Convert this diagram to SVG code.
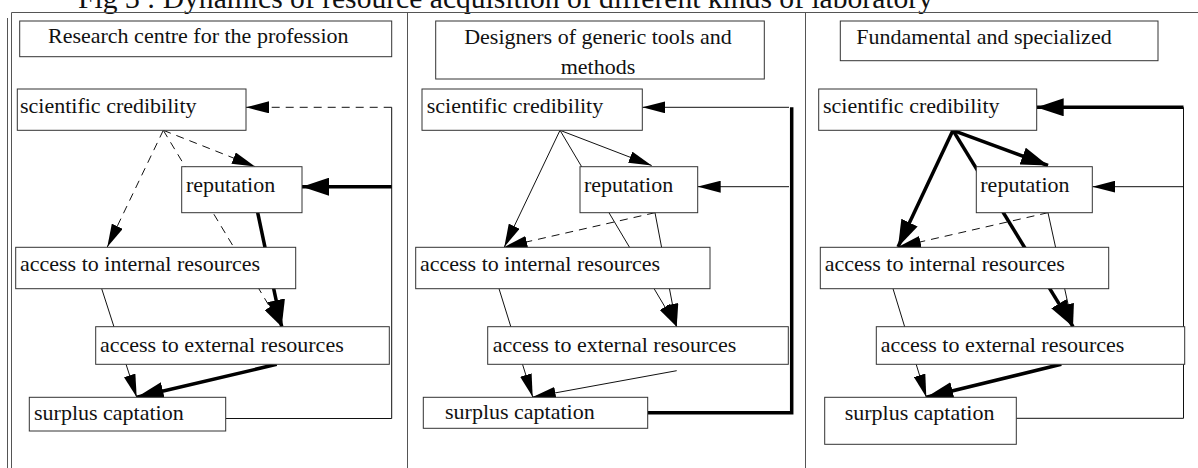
<svg xmlns="http://www.w3.org/2000/svg" width="1198" height="468" viewBox="0 0 1198 468">
<style>
text{font-family:"Liberation Serif","Times New Roman",serif;font-size:22px;fill:#111}
.title{font-size:29.6px}
.box{fill:#fff;stroke:#333;stroke-width:1}
.frame{stroke:#555;stroke-width:1;fill:none}
.thin{stroke:#111;stroke-width:1;fill:none}
.thick{stroke:#000;stroke-width:3.5;fill:none}
.dash{stroke:#111;stroke-width:1;fill:none;stroke-dasharray:8 6}
</style>
<defs>
<marker id="ah" markerUnits="userSpaceOnUse" viewBox="0 0 23 12" markerWidth="23" markerHeight="12" refX="23" refY="6" orient="auto"><path d="M0,0 L23,6 L0,12 z" fill="#000"/></marker>
<marker id="ahb" markerUnits="userSpaceOnUse" viewBox="0 0 27 18" markerWidth="27" markerHeight="18" refX="27" refY="9" orient="auto"><path d="M0,0 L27,9 L0,18 z" fill="#000"/></marker>
</defs>
<rect width="1198" height="468" fill="#fff"/>
<text class="title" x="78" y="8">Fig 3 : Dynamics of resource acquisition of different kinds of laboratory</text>
<g id="frame">
<line class="frame" x1="7.5" y1="18" x2="7.5" y2="468"/>
<line class="frame" x1="11.5" y1="12.5" x2="11.5" y2="468"/>
<line class="frame" x1="11.5" y1="12.5" x2="1198" y2="12.5"/>
<line class="frame" x1="407.5" y1="12.5" x2="407.5" y2="468"/>
<line class="frame" x1="805.5" y1="12.5" x2="805.5" y2="468"/>
</g>
<g id="connectors">
<!-- panel 1 -->
<polyline class="thin" points="225.7,418.5 391.7,418.5 391.7,107.3"/>
<line class="dash" x1="391.7" y1="107.3" x2="246" y2="107.3" marker-end="url(#ah)"/>
<line class="thick" x1="391.7" y1="186.7" x2="302" y2="186.7" marker-end="url(#ahb)"/>
<line class="dash" x1="163.3" y1="130.3" x2="255" y2="166.5" marker-end="url(#ah)"/>
<line class="dash" x1="163.3" y1="130.3" x2="107.3" y2="247" marker-end="url(#ah)"/>
<line class="dash" x1="163.3" y1="130.3" x2="281.7" y2="326.7" marker-end="url(#ah)"/>
<line class="thick" x1="257.7" y1="212.7" x2="281.7" y2="326.7" marker-end="url(#ahb)"/>
<line class="thin" x1="101.7" y1="288.7" x2="136.7" y2="397.3" marker-end="url(#ah)"/>
<line class="thick" x1="276.7" y1="364.3" x2="136.7" y2="397.3" marker-end="url(#ahb)"/>
<!-- panel 2 -->
<polyline class="thick" points="647.7,412.7 791.7,412.7 791.7,107.3"/>
<line class="thin" x1="789" y1="107.3" x2="642.3" y2="107.3" marker-end="url(#ah)"/>
<line class="thin" x1="789" y1="186.7" x2="697.7" y2="186.7" marker-end="url(#ah)"/>
<line class="thin" x1="560" y1="130.3" x2="651.7" y2="165.5" marker-end="url(#ah)"/>
<line class="thin" x1="560" y1="130.3" x2="504.3" y2="247" marker-end="url(#ah)"/>
<line class="thin" x1="560" y1="130.3" x2="676.7" y2="326.7" marker-end="url(#ah)"/>
<line class="thin" x1="655" y1="212.7" x2="676.7" y2="326.7" marker-end="url(#ah)"/>
<line class="dash" x1="655" y1="212.7" x2="504.3" y2="247" marker-end="url(#ah)"/>
<line class="thin" x1="499" y1="288.7" x2="532.7" y2="397" marker-end="url(#ah)"/>
<line class="thin" x1="676.7" y1="370.7" x2="532.7" y2="397" marker-end="url(#ah)"/>
<!-- panel 3 -->
<polyline class="thin" points="1016.3,418.3 1183.5,418.3 1183.5,107.3"/>
<line class="thick" x1="1183.5" y1="107.3" x2="1036.7" y2="107.3" marker-end="url(#ahb)"/>
<line class="thin" x1="1183.5" y1="186.7" x2="1092.3" y2="186.7" marker-end="url(#ah)"/>
<line class="thick" x1="953" y1="130.3" x2="1048" y2="165.5" marker-end="url(#ahb)"/>
<line class="thick" x1="953" y1="130.3" x2="898" y2="247" marker-end="url(#ahb)"/>
<line class="thick" x1="953" y1="130.3" x2="1073" y2="326.7" marker-end="url(#ahb)"/>
<line class="thin" x1="1048" y1="212.7" x2="1073" y2="326.7" marker-end="url(#ah)"/>
<line class="dash" x1="1048" y1="212.7" x2="898" y2="247" marker-end="url(#ah)"/>
<line class="thin" x1="893" y1="288.7" x2="926.3" y2="397.3" marker-end="url(#ah)"/>
<line class="thick" x1="1061.3" y1="364.3" x2="926.3" y2="397.3" marker-end="url(#ahb)"/>
</g>
<!-- panel 1 nodes -->
<g id="p1-title"><rect class="box" x="19.7" y="21" width="372" height="35.7"/><text x="48" y="43">Research centre for the profession</text></g>
<g id="p1-sci"><rect class="box" x="17.3" y="89" width="228.7" height="41.3"/><text x="20" y="112.5">scientific credibility</text></g>
<g id="p1-rep"><rect class="box" x="181.7" y="166.7" width="120.3" height="46"/><text x="186" y="191.7">reputation</text></g>
<g id="p1-int"><rect class="box" x="15.7" y="247.3" width="280" height="41.4"/><text x="20" y="270.7">access to internal resources</text></g>
<g id="p1-ext"><rect class="box" x="95.7" y="326.7" width="293.6" height="37.6"/><text x="100" y="351.5">access to external resources</text></g>
<g id="p1-sur"><rect class="box" x="29.3" y="397.3" width="196.4" height="33.7"/><text x="34" y="420">surplus captation</text></g>
<!-- panel 2 nodes -->
<g id="p2-title"><rect class="box" x="435.7" y="21" width="328.6" height="58"/><text x="598" y="43.5" text-anchor="middle">Designers of generic tools and</text><text x="598" y="74" text-anchor="middle">methods</text></g>
<g id="p2-sci"><rect class="box" x="422" y="89" width="220.3" height="41.3"/><text x="426.7" y="112.5">scientific credibility</text></g>
<g id="p2-rep"><rect class="box" x="580" y="166.7" width="117.7" height="46"/><text x="584" y="191.7">reputation</text></g>
<g id="p2-int"><rect class="box" x="415.7" y="247.3" width="294.3" height="41.4"/><text x="420" y="270.7">access to internal resources</text></g>
<g id="p2-ext"><rect class="box" x="487.7" y="326.7" width="300.6" height="37.6"/><text x="492.7" y="351.5">access to external resources</text></g>
<g id="p2-sur"><rect class="box" x="423.3" y="397.3" width="224.4" height="31"/><text x="445" y="419">surplus captation</text></g>
<!-- panel 3 nodes -->
<g id="p3-title"><rect class="box" x="840.3" y="21" width="317.7" height="39.7"/><text x="856.3" y="44">Fundamental and specialized</text></g>
<g id="p3-sci"><rect class="box" x="818.7" y="89" width="218" height="41.3"/><text x="823" y="112.5">scientific credibility</text></g>
<g id="p3-rep"><rect class="box" x="976.3" y="166.7" width="116" height="46"/><text x="980.3" y="191.7">reputation</text></g>
<g id="p3-int"><rect class="box" x="820.3" y="247.3" width="288.4" height="41.4"/><text x="824.7" y="270.7">access to internal resources</text></g>
<g id="p3-ext"><rect class="box" x="876.3" y="326.7" width="308.4" height="37.6"/><text x="880.7" y="351.5">access to external resources</text></g>
<g id="p3-sur"><rect class="box" x="824.7" y="397.3" width="191.6" height="47"/><text x="844.7" y="420">surplus captation</text></g>
</svg>
